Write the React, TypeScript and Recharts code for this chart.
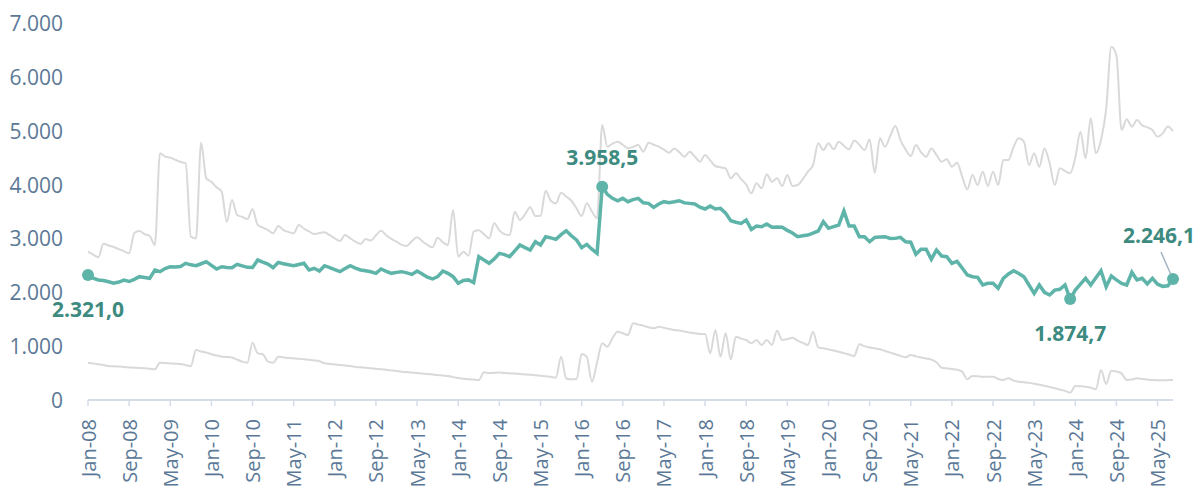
import React from 'react';
import { LineChart, Line, XAxis, YAxis } from 'recharts';

const MONTH_NAMES = ['Jan', 'Feb', 'Mar', 'Apr', 'May', 'Jun', 'Jul', 'Aug', 'Sep', 'Oct', 'Nov', 'Dec'];
const FIRST_YEAR = 2008;
const MONTH_COUNT = 212;
const CATEGORIES = Array.from({ length: MONTH_COUNT }, (_, i) =>
  `${MONTH_NAMES[i % 12]}-${String((FIRST_YEAR + Math.floor(i / 12)) % 100).padStart(2, '0')}`
);

const Y_TICKS = [0, 1000, 2000, 3000, 4000, 5000, 6000, 7000];

// Main (teal) series
const MAIN_SERIES = [
  2321, 2260, 2228, 2220, 2195, 2170, 2190, 2228, 2200, 2240, 2290, 2275,
  2259, 2414, 2383, 2440, 2475, 2470, 2480, 2538, 2510, 2494, 2530, 2568,
  2500, 2432, 2475, 2460, 2457, 2519, 2490, 2463, 2460, 2599, 2560, 2525,
  2457, 2555, 2530, 2510, 2494, 2515, 2538, 2414, 2445, 2395, 2494, 2460,
  2420, 2383, 2440, 2494, 2450, 2414, 2400, 2380, 2352, 2432, 2390, 2352,
  2370, 2383, 2360, 2333, 2395, 2340, 2280, 2247, 2290, 2395, 2352, 2290,
  2166, 2220, 2230, 2178, 2661, 2600, 2538, 2620, 2723, 2700, 2661, 2770,
  2878, 2830, 2785, 2939, 2878, 3032, 3010, 2983, 3070, 3143, 3050, 2971,
  2828, 2890, 2800, 2723, 3958.5, 3820, 3744, 3700, 3744, 3682, 3720, 3744,
  3663, 3651, 3577, 3640, 3682, 3663, 3680, 3700, 3660, 3651, 3639, 3580,
  3546, 3602, 3546, 3558, 3470, 3330, 3300, 3280, 3342, 3168, 3231, 3218,
  3268, 3206, 3210, 3206, 3150, 3100, 3032, 3050, 3063, 3100, 3138, 3311,
  3188, 3220, 3249, 3509, 3231, 3231, 3032, 3032, 2939, 3020, 3025, 3032,
  3000, 3001, 3020, 2939, 2930, 2705, 2798, 2798, 2612, 2785, 2674, 2661,
  2538, 2575, 2450, 2321, 2290, 2278, 2135, 2166, 2166, 2073, 2259, 2340,
  2401, 2350, 2290, 2135, 1981, 2135, 2000, 1950, 2040, 2055, 2135, 1874.7,
  2042, 2150, 2259, 2135, 2270, 2401, 2104, 2302, 2230, 2166, 2135, 2371,
  2228, 2259, 2154, 2259, 2150, 2110, 2120, 2246.1,
];

// Upper gray series
const UPPER_SERIES = [
  2754, 2700, 2650, 2900, 2870, 2840, 2800, 2760, 2723, 3100, 3138, 3080,
  3045, 2878, 4580, 4520, 4500, 4460, 4420, 4394, 3032, 3000, 4777, 4116,
  4050, 3950, 3868, 3311, 3713, 3435, 3400, 3360, 3540, 3249, 3200, 3156,
  3094, 3231, 3156, 3120, 3094, 3249, 3180, 3130, 3082, 3100, 3113, 3060,
  3000, 2952, 3063, 3000, 2940, 2896, 2990, 2960, 3060, 3143, 3060, 2990,
  2939, 2880, 2860, 2950, 3020, 2950, 2880, 2835, 3014, 2930, 2878, 3528,
  2661, 2754, 2680, 3125, 3150, 3080, 3001, 3280, 3150, 3080, 3063, 3497,
  3342, 3450, 3577, 3416, 3420, 3886, 3700, 3651, 3849, 3780, 3700, 3560,
  3416, 3651, 3500, 3372, 5106, 4703, 4760, 4796, 4740, 4672, 4700, 4734,
  4610, 4777, 4740, 4703, 4650, 4592, 4672, 4600, 4518, 4610, 4520, 4425,
  4549, 4450, 4345, 4320, 4301, 4116, 4209, 4100, 4000, 3837, 4023, 3930,
  4190, 4054, 4116, 3973, 4177, 3973, 3992, 4100, 4240, 4363, 4765, 4642,
  4765, 4654, 4796, 4720, 4654, 4820, 4740, 4642, 4839, 4221, 4858, 4703,
  4900, 5087, 4827, 4650, 4530, 4734, 4600, 4518, 4672, 4550, 4425, 4469,
  4332, 4406, 4150, 3911, 4177, 3992, 4240, 3973, 4240, 3992, 4456, 4456,
  4700, 4858, 4796, 4363, 4580, 4332, 4672, 4400, 3992, 4301, 4250, 4209,
  4500, 4982, 4487, 5230, 4580, 4827, 5400, 6560, 6400, 5013, 5212, 5075,
  5199, 5100, 5063, 5013, 4889, 4950, 5080, 4990,
];

// Lower gray series
const LOWER_SERIES = [
  693, 680, 665, 650, 631, 625, 620, 612, 605, 600, 595, 590,
  582, 570, 693, 685, 680, 675, 668, 650, 630, 928, 900, 880,
  850, 825, 805, 800, 790, 750, 712, 693, 1065, 866, 850, 712,
  693, 805, 790, 780, 774, 765, 755, 745, 735, 720, 681, 670,
  660, 650, 640, 630, 615, 607, 598, 590, 580, 572, 562, 550,
  538, 526, 518, 510, 500, 492, 485, 475, 464, 455, 446, 425,
  410, 395, 385, 380, 371, 514, 500, 505, 509, 500, 495, 490,
  482, 475, 468, 460, 450, 440, 430, 415, 805, 400, 384, 390,
  853, 800, 340, 700, 1053, 990, 1150, 1268, 1238, 1207, 1424, 1400,
  1380, 1350, 1331, 1360, 1340, 1320, 1300, 1290, 1270, 1255, 1240, 1225,
  1225, 866, 1300, 805, 1238, 755, 1176, 1140, 1114, 1053, 1114, 1021,
  1114, 1021, 1287, 1114, 1130, 1157, 1101, 1060, 1021, 1268, 978, 960,
  940, 920, 897, 870, 845, 817, 1034, 1000, 975, 960, 941, 910,
  880, 850, 820, 793, 835, 810, 790, 770, 750, 700, 600, 588,
  575, 560, 526, 384, 446, 440, 433, 433, 433, 390, 371, 402,
  360, 340, 330, 320, 300, 285, 265, 240, 217, 195, 170, 136,
  260, 255, 247, 230, 199, 557, 297, 544, 530, 495, 371, 380,
  402, 390, 380, 371, 368, 365, 368, 371,
];

// Points that carry a value label
const HIGHLIGHT_INDICES = [0, 100, 191, 211];

const DATA = CATEGORIES.map((month, i) => ({
  month,
  main: MAIN_SERIES[i],
  upper: UPPER_SERIES[i],
  lower: LOWER_SERIES[i],
}));

const TEAL = '#5fb4a9';
const LABEL_TEAL = '#3d8a80';
const GRAY = '#d9d9d9';
const AXIS_TEXT = '#5b7997';
const AXIS_LINE = '#d5dde8';
const FONT = '"Open Sans", "Liberation Sans", sans-serif';

const groupThousands = (n: number) => String(n).replace(/\B(?=(\d{3})+(?!\d))/g, '.');
const fmtTick = (v: number) => groupThousands(Math.round(v));
const fmtValue = (v: number) => {
  const fixed = v.toFixed(1);
  const [intPart, dec] = fixed.split('.');
  return `${groupThousands(Number(intPart))},${dec}`;
};

// label placement relative to each highlighted dot (styling only)
const LABEL_OFFSETS: Record<number, { dx: number; dy: number; leader?: boolean }> = {
  0: { dx: 0, dy: 34 },
  100: { dx: 0, dy: -30 },
  191: { dx: 0, dy: 34 },
  211: { dx: -14, dy: -44, leader: true },
};

const renderDot = (props: any) => {
  const { cx, cy, index } = props;
  if (!HIGHLIGHT_INDICES.includes(index) || cx == null || cy == null) {
    return <g key={`dot-${index}`} />;
  }
  const off = LABEL_OFFSETS[index];
  return (
    <g key={`dot-${index}`}>
      {off.leader && (
        <line x1={cx - 12} y1={cy - 27} x2={cx - 1} y2={cy - 2} stroke="#a6b3c4" strokeWidth={1.5} />
      )}
      <circle cx={cx} cy={cy} r={6} fill={TEAL} stroke="none" />
      <text
        x={cx + off.dx}
        y={cy + off.dy}
        textAnchor="middle"
        dominantBaseline="central"
        fill={LABEL_TEAL}
        fontFamily={FONT}
        fontWeight={700}
        fontSize={21}
      >
        {fmtValue(MAIN_SERIES[index])}
      </text>
    </g>
  );
};

const XTick = (props: any) => {
  const { x, y, payload } = props;
  return (
    <g transform={`translate(${x},${y})`}>
      <text
        transform="rotate(-90)"
        textAnchor="end"
        dominantBaseline="central"
        fill={AXIS_TEXT}
        fontFamily={FONT}
        fontSize={20}
      >
        {payload.value}
      </text>
    </g>
  );
};

const YTick = (props: any) => {
  const { x, y, payload } = props;
  return (
    <text
      x={x}
      y={y}
      textAnchor="end"
      dominantBaseline="central"
      fill={AXIS_TEXT}
      fontFamily={FONT}
      fontSize={21}
    >
      {fmtTick(payload.value)}
    </text>
  );
};

export default function App() {
  return (
    <div style={{ position: 'absolute', left: 0, top: 0, width: 1195, height: 487, background: '#ffffff' }}>
      <LineChart width={1195} height={487} data={DATA} margin={{ top: 23, right: 22, bottom: 7, left: 0 }}>
        <XAxis
          dataKey="month"
          interval={7}
          height={80}
          tickSize={6}
          tickMargin={13}
          axisLine={{ stroke: AXIS_LINE, strokeWidth: 2 }}
          tickLine={{ stroke: AXIS_LINE, strokeWidth: 1.5 }}
          tick={XTick}
        />
        <YAxis
          domain={[0, 7000]}
          ticks={Y_TICKS}
          width={88}
          axisLine={false}
          tickLine={false}
          tickSize={0}
          tickMargin={25}
          tick={YTick}
        />
        <Line dataKey="upper" type="monotone" stroke={GRAY} strokeWidth={2} dot={false} activeDot={false} isAnimationActive={false} />
        <Line dataKey="lower" type="monotone" stroke={GRAY} strokeWidth={2} dot={false} activeDot={false} isAnimationActive={false} />
        <Line dataKey="main" type="linear" stroke={TEAL} strokeWidth={3.5} dot={renderDot} activeDot={false} isAnimationActive={false} />
      </LineChart>
    </div>
  );
}
